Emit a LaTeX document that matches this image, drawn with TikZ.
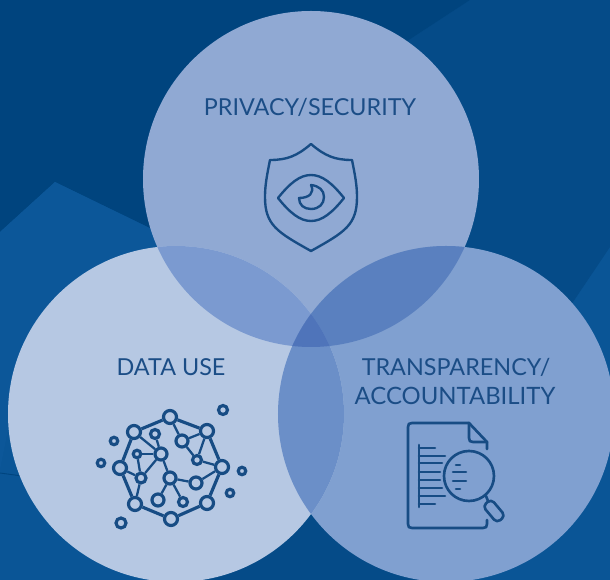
\documentclass[tikz,border=0pt]{standalone}
\usepackage{fontspec}
\setmainfont{Lato}
\definecolor{bgdark}{HTML}{00447E}
\definecolor{bgmid}{HTML}{054B88}
\definecolor{bglight}{HTML}{0A5596}
\definecolor{bgleft}{HTML}{0C5799}
\definecolor{circtop}{HTML}{90A9D3}
\definecolor{circleft}{HTML}{B6C8E3}
\definecolor{circright}{HTML}{80A0D0}
\definecolor{overlaptl}{HTML}{7B9AD0}
\definecolor{overlaptr}{HTML}{5A80BF}
\definecolor{overlaplr}{HTML}{6B8FC8}
\definecolor{overlapall}{HTML}{4F74BA}
\definecolor{inkblue}{HTML}{1B4D86}
\definecolor{iconblue}{HTML}{174C84}
\tikzset{
	title/.style={text=inkblue, font=\fontsize{13.3pt}{16pt}\selectfont, inner sep=0pt},
	hub/.style={circle, draw=iconblue, line width=1.8pt, inner sep=0pt},
	link/.style={draw=iconblue, line width=1.3pt},
	icon/.style={draw=iconblue, line width=1.5pt, line join=round, line cap=round},
}
\begin{document}
\begin{tikzpicture}[x=0.02cm, y=-0.02cm]
	\useasboundingbox (0,0) rectangle (610,580);

	% background
	\fill[bglight] (0,0) rectangle (610,580);
	\fill[bgmid] (470,0) -- (610,0) -- (610,247) -- (573,302) -- (500,400) -- (340,200) -- (340,85) -- cycle;
	\fill[bgmid] (190,500) -- (430,500) -- (430,580) -- (190,580) -- cycle;
	\fill[bgdark] (0,0) -- (470,0) -- (340,85) -- (340,280) -- (150,228) -- (55,182) -- (0,232) -- cycle;
	\fill[bgleft] (0,232) -- (55,182) -- (170,238) -- (10,420) -- (0,470) -- cycle;
	\draw[bgdark, line width=0.5pt] (0,473) -- (22,476);

	% circles
	\fill[circtop] (311,179) circle (168);
	\fill[circright] (446,414) circle (168);
	\fill[circleft] (176,414) circle (168);

	% overlaps
	\begin{scope}
		\clip (311,179) circle (168);
		\fill[overlaptl] (176,414) circle (168);
		\fill[overlaptr] (446,414) circle (168);
	\end{scope}
	\begin{scope}
		\clip (176,414) circle (168);
		\fill[overlaplr] (446,414) circle (168);
		\clip (311,179) circle (168);
		\fill[overlapall] (446,414) circle (168);
	\end{scope}

	% labels
	\node[title] (privacy) at (310,107) {PRIVACY/SECURITY};
	\node[title] (datause) at (171,367) {DATA USE};
	\node[title] (transparency) at (456,367) {TRANSPARENCY/};
	\node[title, font=\fontsize{13.6pt}{16pt}\selectfont] (accountability) at (455,396) {ACCOUNTABILITY};

	% shield
	\draw[icon, line width=1.35pt] (311,144) .. controls (325,156) and (335,160) .. (352,160)
		.. controls (355,175) and (357,185) .. (357,197)
		.. controls (357,225) and (345,232) .. (311,251)
		.. controls (277,232) and (265,225) .. (265,197)
		.. controls (265,185) and (267,175) .. (270,160)
		.. controls (287,160) and (297,156) .. (311,144) -- cycle;
	\draw[icon, line width=1.35pt] (278,198) .. controls (290,183) and (300,175) .. (311,175)
		.. controls (322,175) and (332,183) .. (344,198)
		.. controls (332,213) and (322,221) .. (311,221)
		.. controls (300,221) and (290,213) .. (278,198) -- cycle;
	\draw[icon, line width=1.35pt] (299,198) .. controls (299,205) and (304,209) .. (311,209)
		.. controls (319,209) and (324,204) .. (324,197)
		.. controls (324,190) and (319,186) .. (311,185)
		.. controls (315,193) and (309,198) .. (299,198) -- cycle;

	% network
	\foreach \name/\x/\y/\d in {a/170/417/13, b/207/431/13, c/222/467/13, d/207/503/13, e/171/519/13, f/135/504/13, g/120/468/13, h/134/432/13,
		i/182/441/12, j/197/460/9, k/161/454/12, l/155/434/9, m/137/454/7.5, n/141/478/10, o/170/478/12, p/196/483/12, q/158/500/12, r/183/502/9,
		s/223/410/9, t/114/441/7.5, u/101/463/7.5, v/242/471/7.5, w/230/493/7.5, z/121/523/10}
		\node[hub, minimum size=\d*0.02cm] (\name) at (\x,\y) {};
	\foreach \from/\to in {a/b, b/c, c/d, d/e, e/f, f/g, g/h, h/a}
		\draw[link, line width=1.8pt] (\from) -- (\to);
	\foreach \from/\to in {a/i, i/b, i/j, b/j, j/c, c/p, p/o, o/k, o/q, o/r, k/h, k/l, k/m, k/n, m/n, n/g, n/f}
		\draw[link] (\from) -- (\to);

	% document
	\draw[icon] (487,449) -- (487,442) -- (469,423) -- (412,423)
		.. controls (409,423) and (408,424) .. (408,427) -- (408,524)
		.. controls (408,527) and (409,528) .. (412,528) -- (483,528)
		.. controls (486,528) and (487,527) .. (487,524) -- (487,520);
	\draw[icon] (469,423) -- (469,438) .. controls (469,441) and (470,442) .. (473,442) -- (487,442);
	\draw[icon] (419,445) -- (419,507);
	\foreach \y/\x in {448/435, 456/445, 463/442, 472/440, 480/440, 488/442, 496/445, 504/435}
		\draw[icon] (419,\y) -- (\x,\y);

	% magnifier
	\draw[icon] (469,476) circle (25);
	\draw[icon] (486,496) -- (488,501);
	\draw[icon, rounded corners=2.5pt, rotate around={-50:(494,511)}] (483,505.5) rectangle (505,516.5);
	\draw[icon] (456,465) -- (460,465);
	\draw[icon] (453,472) -- (466,472);
	\draw[icon] (453,481) -- (466,481);
	\draw[icon] (456,489) -- (460,489);
\end{tikzpicture}
\end{document}
